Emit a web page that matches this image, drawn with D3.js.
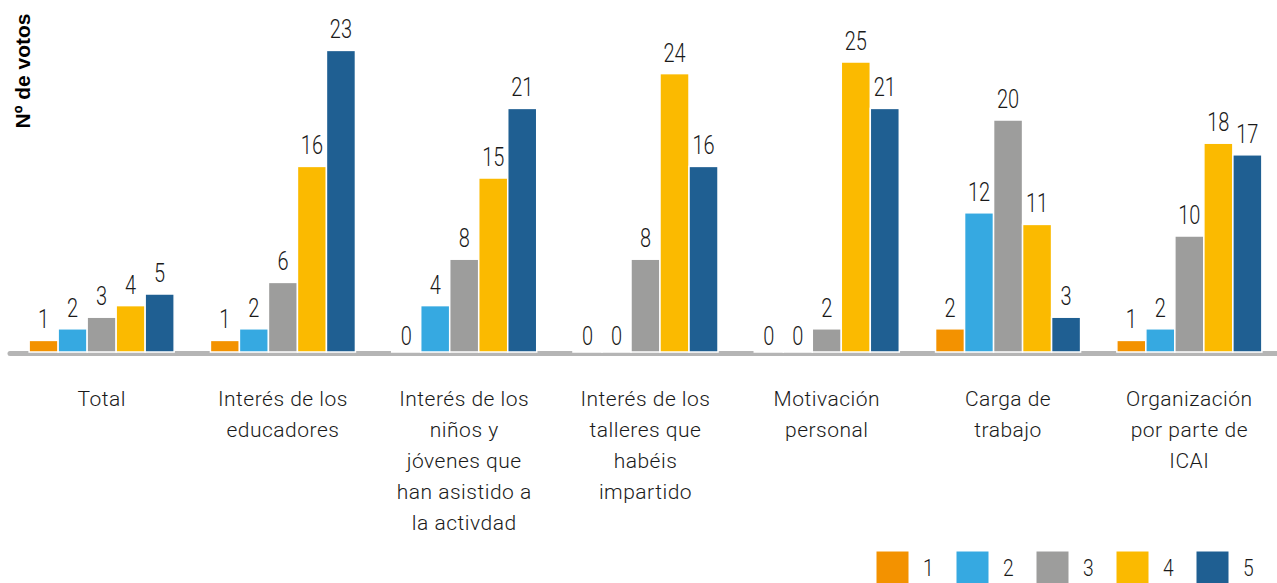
<!DOCTYPE html>
<html>
<head>
  <meta charset="utf-8">
  <title>Nº de votos</title>
  <script src="https://cdn.jsdelivr.net/npm/d3@7"></script>
  <style>
    body { margin: 0; background: #ffffff; }
    .val, .leg { font-family: Roboto, 'Liberation Sans', sans-serif; font-weight: 300; fill: #1a1a1a; }
    .cat { font-family: Roboto, 'Liberation Sans', sans-serif; font-weight: 300; fill: #1a1a1a; letter-spacing: 0.5px; }
  </style>
</head>
<body>
  <svg width="1277" height="583" id="mainsvg"></svg>
  <script>
    // data
    const categories = [
      ['Total'],
      ['Interés de los', 'educadores'],
      ['Interés de los', 'niños y', 'jóvenes que', 'han asistido a', 'la activdad'],
      ['Interés de los', 'talleres que', 'habéis', 'impartido'],
      ['Motivación', 'personal'],
      ['Carga de', 'trabajo'],
      ['Organización', 'por parte de', 'ICAI']
    ];
    const seriesNames = ['1', '2', '3', '4', '5'];
    const s1 = [1, 1, 0, 0, 0, 2, 1];
    const s2 = [2, 2, 4, 0, 0, 12, 2];
    const s3 = [3, 6, 8, 8, 2, 20, 10];
    const s4 = [4, 16, 15, 24, 25, 11, 18];
    const s5 = [5, 26, 21, 16, 21, 3, 17];       // bar heights as drawn
    const s5Labels = [5, 23, 21, 16, 21, 3, 17]; // the label printed on the picture
    const colors = ['#f39200', '#36a9e1', '#9d9d9c', '#fbba00', '#1f5f92'];

    const svg = d3.select('#mainsvg');
    const width = +svg.attr('width');
    const baseY = 352;
    const squeeze = 0.8; // condensed look for the digits

    const series = [s1, s2, s3, s4, s5];
    const labels = [s1, s2, s3, s4, s5Labels];
    const catIdx = d3.range(categories.length);

    const x0 = d3.scaleBand().domain(catIdx).range([11, 1280])
      .paddingInner(0.2).paddingOuter(0.1);
    const x1 = d3.scaleBand().domain(d3.range(seriesNames.length)).range([0, x0.bandwidth()]);
    const y = d3.scaleLinear().domain([0, 26]).range([baseY, baseY - 26 * 11.6]);

    // baseline
    svg.append('line')
      .attr('x1', x0.range()[0] - 1).attr('x2', width + 5)
      .attr('y1', baseY + 1.5).attr('y2', baseY + 1.5)
      .attr('stroke', '#b5b5b5').attr('stroke-width', 5)
      .attr('stroke-linecap', 'round');

    const groups = svg.append('g').selectAll('g')
      .data(catIdx).join('g')
      .attr('transform', i => `translate(${x0(i)},0)`);

    const cells = i => series.map((s, k) => ({ k, v: s[i], lab: labels[k][i] }));

    groups.selectAll('rect')
      .data(cells)
      .join('rect')
      .attr('x', d => x1(d.k))
      .attr('y', d => y(d.v) - (d.v ? 0 : 1))
      .attr('width', x1.bandwidth())
      .attr('height', d => y(0) - y(d.v) + (d.v ? 0 : 1))
      .attr('fill', d => d.v ? colors[d.k] : '#d9d9d9')
      .attr('stroke', '#ffffff')
      .attr('stroke-width', 1.5);

    groups.selectAll('text.val')
      .data(cells)
      .join('text')
      .attr('class', 'val')
      .attr('transform', d => `translate(${x1(d.k) + x1.bandwidth() / 2},${y(d.v) - (d.v ? 12 : 7)}) scale(${squeeze},1)`)
      .attr('text-anchor', 'middle')
      .attr('font-size', 25)
      .text(d => d.lab);

    // category labels
    const cat = svg.append('g').selectAll('text')
      .data(catIdx).join('text')
      .attr('class', 'cat')
      .attr('font-size', 21)
      .attr('text-anchor', 'middle');
    cat.selectAll('tspan')
      .data(i => categories[i].map((t, j) => ({ t, j, i })))
      .join('tspan')
      .attr('x', d => x0(d.i) + x0.bandwidth() / 2)
      .attr('y', d => 406 + d.j * 31)
      .text(d => d.t);

    // y title
    svg.append('text')
      .attr('transform', 'translate(30,71) rotate(-90)')
      .attr('text-anchor', 'middle')
      .attr('font-family', "'Liberation Sans', Arial, sans-serif")
      .attr('font-weight', 'bold')
      .attr('font-size', 21)
      .attr('fill', '#000')
      .text('Nº de votos');

    // legend
    const leg = svg.append('g').selectAll('g')
      .data(seriesNames).join('g')
      .attr('transform', (d, i) => `translate(${876 + i * 80},551)`);
    leg.append('rect')
      .attr('width', 33).attr('height', 33)
      .attr('fill', (d, i) => colors[i])
      .attr('stroke', '#ffffff').attr('stroke-width', 1);
    leg.append('text')
      .attr('class', 'leg')
      .attr('transform', `translate(47,25) scale(${squeeze},1)`)
      .attr('font-size', 24)
      .text(d => d);
  </script>
</body>
</html>
